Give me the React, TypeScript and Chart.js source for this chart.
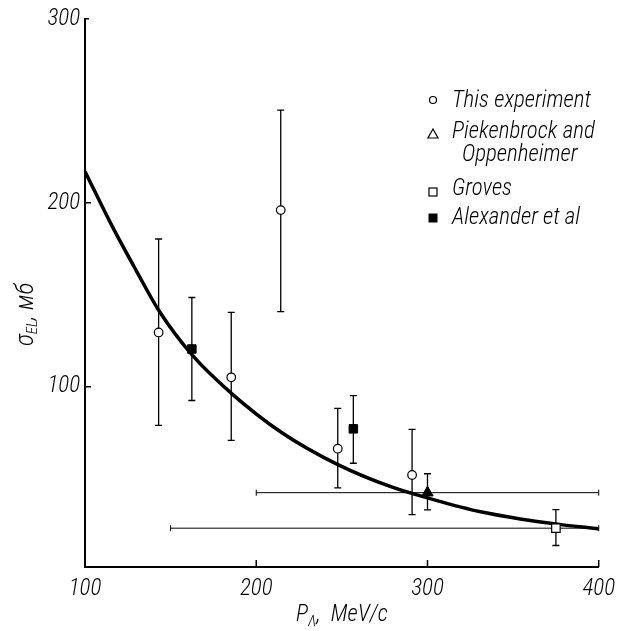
import React, { useEffect, useRef } from "react";
import { Chart, registerables } from "chart.js";

Chart.register(...registerables);

// ---- data ----
const xTicks = [100, 200, 300, 400];
const yTicks = [100, 200, 300];

const curveX = [100, 116, 130, 143.4, 162.8, 186, 215, 248, 279, 304, 331, 355, 376, 400];
const curveY = [217, 187, 163, 141, 117, 96, 75, 57.5, 45.5, 38.5, 32, 28, 25.3, 22.7];

const thisX = [143, 185.4, 214.3, 247.6, 291];
const thisY = [129.5, 105.1, 196, 66.3, 52];
const thisYLow = [79, 70.8, 140.8, 45, 30.5];
const thisYHigh = [180.3, 140.4, 250.4, 88.2, 76.8];

const piekX = [300];
const piekY = [42.4];
const piekYLow = [33];
const piekYHigh = [52.7];
const piekXLow = [200];
const piekXHigh = [400];

const grovesX = [375];
const grovesY = [23.1];
const grovesYLow = [13.7];
const grovesYHigh = [33.2];
const grovesXLow = [150];
const grovesXHigh = [400];

const alexX = [162.4, 256.7];
const alexY = [120.5, 77.1];
const alexYLow = [92.5, 58.4];
const alexYHigh = [148.5, 95.2];

const legendLabels = ["This experiment", "Piekenbrock and|Oppenheimer", "Groves", "Alexander et al"];
const xTitleMain = "P";
const xTitleSub = "Λ";
const xTitleRest = ",  MeV/c";
const yTitleMain = "σ";
const yTitleSub = "EL";
const yTitleRest = ", мб";

const FONT_FAMILY = '"Roboto Condensed", "Open Sans", sans-serif';

const zip = (xs: number[], ys: number[]) => xs.map((x, i) => ({ x, y: ys[i] }));

const errorSets = [
  { xs: thisX, ys: thisY, lo: thisYLow, hi: thisYHigh },
  { xs: piekX, ys: piekY, lo: piekYLow, hi: piekYHigh, xlo: piekXLow, xhi: piekXHigh },
  { xs: grovesX, ys: grovesY, lo: grovesYLow, hi: grovesYHigh, xlo: grovesXLow, xhi: grovesXHigh },
  { xs: alexX, ys: alexY, lo: alexYLow, hi: alexYHigh },
];

const decorPlugin = {
  id: "decor",
  beforeDatasetsDraw(chart: any) {
    const ctx = chart.ctx;
    const xs = chart.scales.x;
    const ys = chart.scales.y;
    ctx.save();
    ctx.strokeStyle = "#000";
    errorSets.forEach((s: any) => {
      s.xs.forEach((xv: number, i: number) => {
        const px = xs.getPixelForValue(xv);
        const pLo = ys.getPixelForValue(s.lo[i]);
        const pHi = ys.getPixelForValue(s.hi[i]);
        ctx.lineWidth = 1.3;
        ctx.beginPath();
        ctx.moveTo(px, pLo);
        ctx.lineTo(px, pHi);
        ctx.moveTo(px - 3.5, pLo);
        ctx.lineTo(px + 3.5, pLo);
        ctx.moveTo(px - 3.5, pHi);
        ctx.lineTo(px + 3.5, pHi);
        ctx.stroke();
        if (s.xlo) {
          const py = ys.getPixelForValue(s.ys[i]);
          const x1 = xs.getPixelForValue(s.xlo[i]);
          const x2 = xs.getPixelForValue(s.xhi[i]);
          ctx.lineWidth = 1;
          ctx.beginPath();
          ctx.moveTo(x1, py);
          ctx.lineTo(x2, py);
          ctx.moveTo(x1, py - 3);
          ctx.lineTo(x1, py + 3);
          ctx.moveTo(x2, py - 3);
          ctx.lineTo(x2, py + 3);
          ctx.stroke();
        }
      });
    });
    ctx.restore();
  },
  afterDraw(chart: any) {
    const ctx = chart.ctx;
    const xs = chart.scales.x;
    const ys = chart.scales.y;
    const area = chart.chartArea;
    ctx.save();
    ctx.strokeStyle = "#000";
    ctx.lineWidth = 1.5;
    ctx.beginPath();
    yTicks.forEach((v) => {
      const py = ys.getPixelForValue(v);
      ctx.moveTo(area.left, py);
      ctx.lineTo(area.left + (v === 300 ? 4 : 6), py);
    });
    xTicks.forEach((v) => {
      if (v === xTicks[0]) return;
      const px = xs.getPixelForValue(v);
      ctx.moveTo(px, area.bottom);
      ctx.lineTo(px, area.bottom - 7);
    });
    ctx.stroke();

    ctx.fillStyle = "#000";
    ctx.textBaseline = "alphabetic";
    ctx.textAlign = "left";
    const big = `italic 300 23px ${FONT_FAMILY}`;
    const small = `italic 300 15px ${FONT_FAMILY}`;
    // x title
    let x = 296;
    const by = 621;
    ctx.font = big;
    ctx.fillText(xTitleMain, x, by);
    x += ctx.measureText(xTitleMain).width;
    ctx.font = small;
    ctx.fillText(xTitleSub, x, by + 5);
    x += ctx.measureText(xTitleSub).width;
    ctx.font = big;
    ctx.fillText(xTitleRest, x, by);

    // y title (rotated)
    ctx.save();
    ctx.translate(33, 346);
    ctx.rotate(-Math.PI / 2);
    let t = 0;
    ctx.font = `italic 300 25px ${FONT_FAMILY}`;
    ctx.fillText(yTitleMain, t, 0);
    t += ctx.measureText(yTitleMain).width;
    ctx.font = small;
    ctx.fillText(yTitleSub, t, 4);
    t += ctx.measureText(yTitleSub).width;
    ctx.font = `italic 300 25px ${FONT_FAMILY}`;
    ctx.fillText(yTitleRest, t, 0);
    ctx.restore();

    // legend
    const mx = 433;
    const tx = 452;
    const rows = [
      { my: 100, base: 107 },
      { my: 134, base: 138 },
      { my: 192, base: 195 },
      { my: 218, base: 224 },
    ];
    ctx.font = big;
    legendLabels.forEach((lab, i) => {
      const parts = lab.split("|");
      ctx.fillText(parts[0], tx, rows[i].base);
      if (parts[1]) ctx.fillText(parts[1], tx + 10, rows[i].base + 23);
    });
    ctx.lineWidth = 1.2;
    ctx.beginPath();
    ctx.arc(mx, rows[0].my, 3.5, 0, Math.PI * 2);
    ctx.stroke();
    ctx.beginPath();
    ctx.moveTo(mx, rows[1].my - 5);
    ctx.lineTo(mx + 5, rows[1].my + 4);
    ctx.lineTo(mx - 5, rows[1].my + 4);
    ctx.closePath();
    ctx.stroke();
    ctx.strokeRect(mx - 4, rows[2].my - 4, 8, 8);
    ctx.fillRect(mx - 4.5, rows[3].my - 4.5, 9, 9);
    ctx.restore();
  },
};

export default function App() {
  const ref = useRef<HTMLCanvasElement>(null);
  useEffect(() => {
    document.body.style.margin = "0";
    const tickFont = { family: FONT_FAMILY, size: 23, style: "italic" as const, weight: "300" as any };
    const chart = new Chart(ref.current as HTMLCanvasElement, {
      type: "scatter",
      data: {
        datasets: [
          {
            type: "line",
            label: "fit",
            data: zip(curveX, curveY),
            borderColor: "#000",
            borderWidth: 3.5,
            pointRadius: 0,
            cubicInterpolationMode: "monotone",
            fill: false,
            order: 10,
          } as any,
          {
            label: "This experiment",
            data: zip(thisX, thisY),
            pointStyle: "circle",
            pointRadius: 4.3,
            backgroundColor: "#fff",
            borderColor: "#000",
            borderWidth: 1.2,
            order: 1,
          },
          {
            label: "Piekenbrock and Oppenheimer",
            data: zip(piekX, piekY),
            pointStyle: "triangle",
            pointRadius: 6.5,
            backgroundColor: "#000",
            borderColor: "#000",
            borderWidth: 1,
            order: 1,
          },
          {
            label: "Groves",
            data: zip(grovesX, grovesY),
            pointStyle: "rect",
            pointRadius: 6,
            backgroundColor: "#fff",
            borderColor: "#000",
            borderWidth: 1.2,
            order: 1,
          },
          {
            label: "Alexander et al",
            data: zip(alexX, alexY),
            pointStyle: "rect",
            pointRadius: 6,
            backgroundColor: "#000",
            borderColor: "#000",
            borderWidth: 1,
            order: 1,
          },
        ],
      },
      options: {
        responsive: false,
        animation: false,
        layout: { padding: { top: 17, right: 21, left: 0, bottom: 0 } },
        plugins: { legend: { display: false }, tooltip: { enabled: false } },
        scales: {
          x: {
            type: "linear",
            min: 100,
            max: 400,
            grid: { display: false, drawTicks: false },
            border: { display: true, color: "#000", width: 2 },
            afterBuildTicks: (s: any) => {
              s.ticks = xTicks.map((v) => ({ value: v }));
            },
            afterFit: (s: any) => {
              s.height = 64;
            },
            ticks: { color: "#000", font: tickFont, padding: 8, maxRotation: 0 },
          },
          y: {
            type: "linear",
            min: 2,
            max: 300,
            grid: { display: false, drawTicks: false },
            border: { display: true, color: "#000", width: 2 },
            afterBuildTicks: (s: any) => {
              s.ticks = yTicks.map((v) => ({ value: v }));
            },
            afterFit: (s: any) => {
              s.width = 85;
            },
            ticks: { color: "#000", font: tickFont, padding: 5 },
          },
        },
      },
      plugins: [decorPlugin],
    });
    return () => chart.destroy();
  }, []);
  return <canvas ref={ref} width={623} height={631} style={{ display: "block" }} />;
}
